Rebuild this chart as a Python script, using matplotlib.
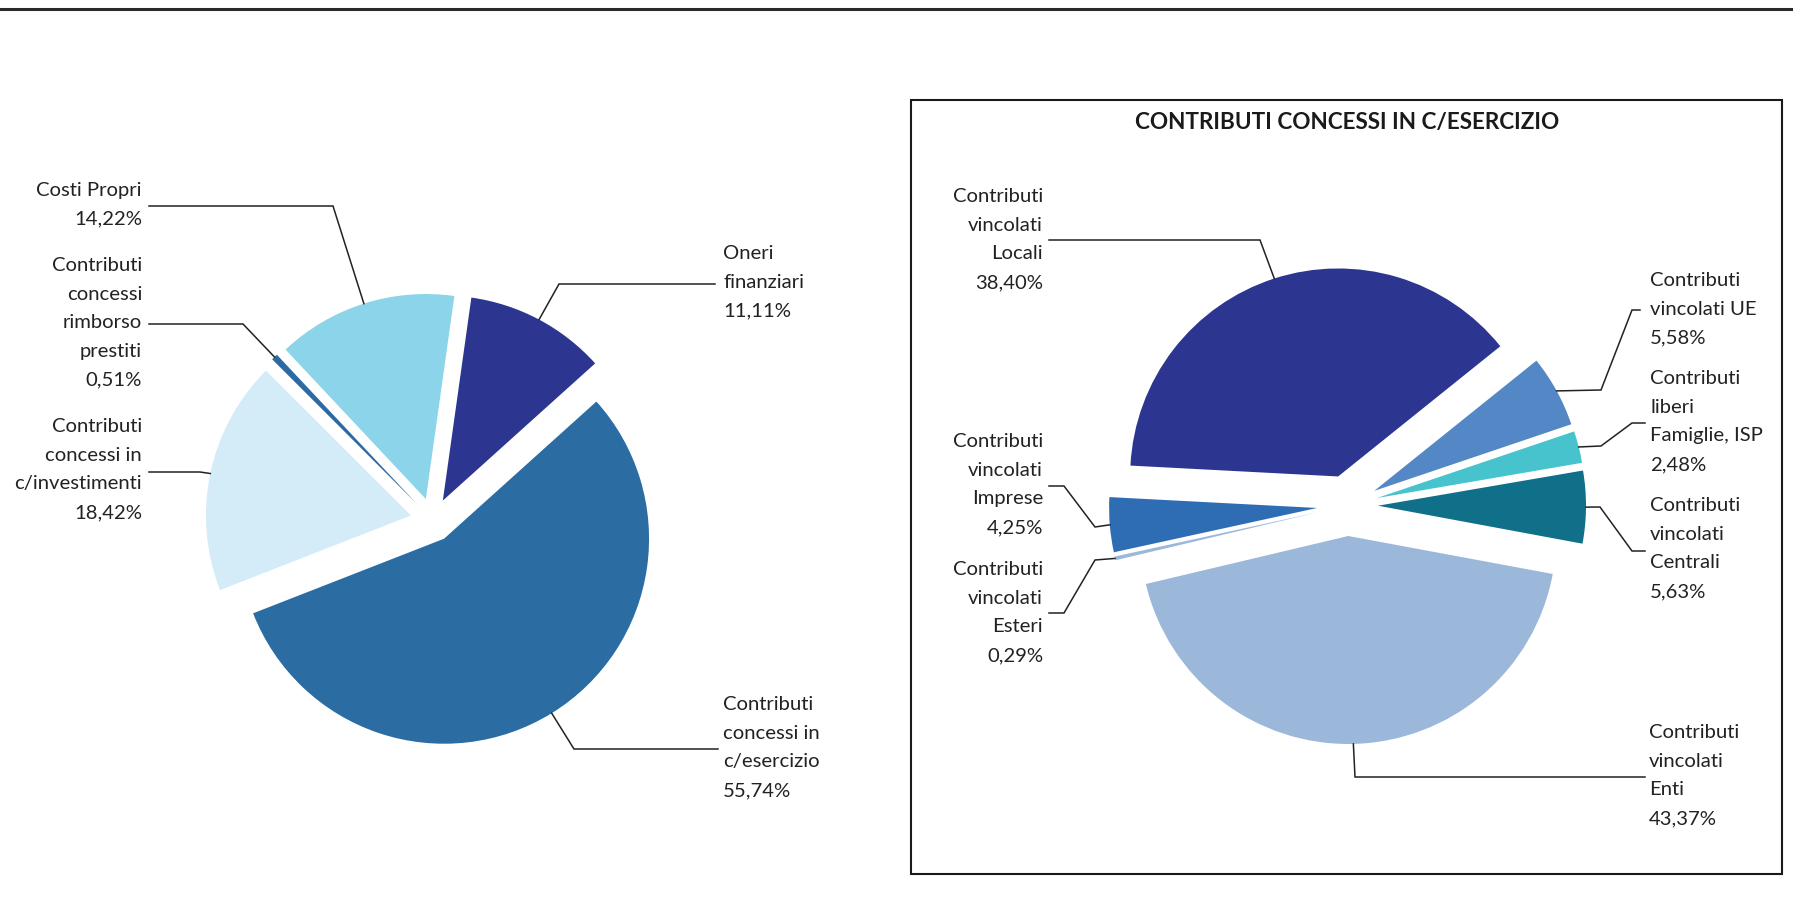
import numpy as np
import matplotlib.pyplot as plt
from matplotlib.patches import Rectangle

W, H = 1793, 915

# left pie: composition of the spending
left_names = ["Oneri\nfinanziari", "Contributi\nconcessi in\nc/esercizio",
              "Contributi\nconcessi in\nc/investimenti",
              "Contributi\nconcessi\nrimborso\nprestiti", "Costi Propri"]
left_values = [11.11, 55.74, 18.42, 0.51, 14.22]
left_colors = ["#2C3690", "#2B6CA3", "#D4ECF7", "#2C6AA5", "#8BD4EA"]

# right pie: breakdown of "contributi concessi in c/esercizio"
right_title = "CONTRIBUTI CONCESSI IN C/ESERCIZIO"
right_names = ["Contributi\nvincolati\nLocali", "Contributi\nvincolati UE",
               "Contributi\nliberi\nFamiglie, ISP", "Contributi\nvincolati\nCentrali",
               "Contributi\nvincolati\nEnti", "Contributi\nvincolati\nEsteri",
               "Contributi\nvincolati\nImprese"]
right_values = [38.40, 5.58, 2.48, 5.63, 43.37, 0.29, 4.25]
right_colors = ["#2C3690", "#5387C5", "#46C3CD", "#107089", "#9BB8DA", "#9BB8DA", "#2E6CB4"]

# layout (pixel coords, y from top): text x, first baseline, alignment, leader points
left_layout = [
    (723, 259, "left", [(715, 284), (559, 284)]),
    (723, 710, "left", [(718, 749), (574, 749)]),
    (142, 432, "right", [(149, 472), (200, 472)]),
    (142, 271, "right", [(149, 324), (243, 324)]),
    (142, 196, "right", [(149, 206), (333, 206)]),
]
right_layout = [
    (1043, 202, "right", [(1049, 240), (1260, 240)]),
    (1650, 286, "left", [(1640, 310), (1632, 310), (1601, 390)]),
    (1650, 384, "left", [(1645, 423), (1632, 423), (1601, 446)]),
    (1650, 511, "left", [(1645, 551), (1632, 551), (1600, 507)]),
    (1649, 738, "left", [(1645, 777), (1355, 777)]),
    (1043, 575, "right", [(1049, 613), (1064, 613), (1095, 560)]),
    (1043, 447, "right", [(1049, 486), (1064, 486), (1095, 527)]),
]

FONT = "Lato"
TXT = "#222222"
STEP = 28.7


def pct(v):
    return ("%.2f" % v).replace(".", ",") + "%"


def draw_labels(ax, wedges, names, values, layout):
    for w, name, v, (tx, ty, ha, pts) in zip(wedges, names, values, layout):
        lines = (name + "\n" + pct(v)).split("\n")
        for i, ln in enumerate(lines):
            ax.text(tx, H - (ty + i * STEP), ln, ha=ha, va="baseline",
                    fontsize=14.6, family=FONT, color=TXT)
        # leader ends on the arc at the middle of the wedge
        tm = np.deg2rad((w.theta1 + w.theta2) / 2)
        ax_ = w.center[0] + w.r * np.cos(tm)
        ay_ = w.center[1] + w.r * np.sin(tm)
        xs = [p[0] for p in pts] + [ax_]
        ys = [H - p[1] for p in pts] + [ay_]
        ax.plot(xs, ys, color=TXT, lw=1.1, solid_joinstyle="miter")


fig = plt.figure(figsize=(W / 100, H / 100), dpi=100)
ax = fig.add_axes([0, 0, 1, 1])

wl, _ = ax.pie(left_values, colors=left_colors, startangle=82, counterclock=False,
               radius=205, center=(432.5, H - 520), explode=[22] * len(left_values),
               wedgeprops=dict(linewidth=0))
wr, _ = ax.pie(right_values, colors=right_colors, startangle=177, counterclock=False,
               radius=208, center=(1347.5, H - 505.5), explode=[30.5] * len(right_values),
               wedgeprops=dict(linewidth=0))

draw_labels(ax, wl, left_names, left_values, left_layout)
draw_labels(ax, wr, right_names, right_values, right_layout)

ax.text(1347, H - 129, right_title, ha="center", va="baseline", fontsize=16.2,
        fontweight="bold", family=FONT, color="#1a1a1a")

# frame around the right chart and the rule on top
ax.add_patch(Rectangle((911, H - 874), 1782 - 911, 874 - 100, fill=False,
                       edgecolor="#1a1a1a", lw=1.5))
ax.plot([0, W], [H - 8.5, H - 8.5], color="#2a2a2a", lw=2.2)

ax.set_xlim(0, W)
ax.set_ylim(0, H)
ax.set_aspect("auto")
ax.axis("off")

fig.savefig("out.png", dpi=100, facecolor="white")
